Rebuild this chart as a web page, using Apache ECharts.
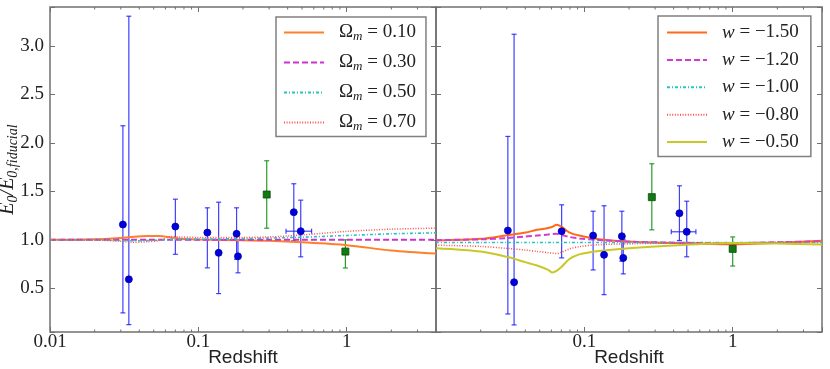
<!DOCTYPE html>
<html>
<head>
<meta charset="utf-8">
<script src="https://cdn.jsdelivr.net/npm/echarts@6/dist/echarts.min.js"></script>
<style>
html, body { margin: 0; padding: 0; background: #fff; }
#main { width: 830px; height: 369px; }
</style>
</head>
<body>
<div id="main"></div>
<script>
// model curves, left panel (matter density)
var zLeft = [0.01, 0.02, 0.03, 0.035, 0.045, 0.055, 0.065, 0.075, 0.1, 0.2, 0.3, 0.5, 1, 2, 4]
var om10 = [1.0, 1.005, 1.02, 1.03, 1.04, 1.04, 1.025, 1.012, 1.003, 0.995, 0.99, 0.975, 0.945, 0.89, 0.858]
var om30 = [1.0, 1.0, 1.0, 1.0, 1.0, 1.0, 1.0, 1.0, 1.0, 1.0, 1.0, 1.0, 1.0, 1.0, 1.0]
var om50 = [1.0, 0.998, 0.993, 0.99, 0.992, 0.997, 1.003, 1.004, 1.006, 1.012, 1.018, 1.027, 1.045, 1.062, 1.072]
var om70 = [1.0, 0.997, 0.985, 0.975, 0.98, 0.995, 1.035, 1.03, 1.025, 1.025, 1.03, 1.05, 1.087, 1.11, 1.12]

// model curves, right panel (equation of state)
var zRight = [0.01, 0.02, 0.03, 0.04, 0.048, 0.057, 0.061, 0.065, 0.07, 0.079, 0.0925, 0.126, 0.21, 0.46, 1, 2, 4]
var w150 = [0.993, 1.01, 1.047, 1.075, 1.103, 1.122, 1.135, 1.155, 1.137, 1.078, 1.044, 1.006, 0.98, 0.965, 0.955, 0.97, 0.99]
var w120 = [0.997, 1.005, 1.018, 1.035, 1.045, 1.055, 1.06, 1.062, 1.05, 1.03, 1.015, 0.998, 0.98, 0.97, 0.965, 0.975, 0.985]
var w100 = [0.973, 0.973, 0.973, 0.973, 0.973, 0.973, 0.973, 0.973, 0.973, 0.973, 0.973, 0.973, 0.973, 0.973, 0.973, 0.973, 0.973]
var w080 = [0.945, 0.932, 0.912, 0.895, 0.88, 0.868, 0.862, 0.858, 0.872, 0.905, 0.93, 0.95, 0.96, 0.968, 0.97, 0.975, 0.98]
var w050 = [0.914, 0.88, 0.825, 0.77, 0.735, 0.69, 0.663, 0.68, 0.72, 0.8, 0.85, 0.885, 0.917, 0.948, 0.968, 0.962, 0.952]

// measurements (left panel)
var obsZL = [0.031, 0.034, 0.07, 0.115, 0.137, 0.181, 0.185, 0.44, 0.49]
var obsEL = [1.158, 0.593, 1.137, 1.075, 0.866, 1.062, 0.83, 1.285, 1.089]
var obsLoL = [0.247, 0.126, 0.851, 0.711, 0.446, 0.80, 0.66, 0.99, 0.825]
var obsHiL = [2.176, 3.305, 1.419, 1.33, 1.388, 1.33, 1.0, 1.578, 1.409]
var obsXLoL = [0, 0, 0, 0, 0, 0, 0, 0, 0.39]
var obsXHiL = [0, 0, 0, 0, 0, 0, 0, 0, 0.58]
var snZL = [0.289, 0.98]
var snEL = [1.467, 0.879]
var snLoL = [1.12, 0.71]
var snHiL = [1.815, 1.0]

// measurements (right panel)
var obsZR = [0.0305, 0.0336, 0.0703, 0.1146, 0.1358, 0.179, 0.183, 0.4375, 0.49]
var obsER = [1.096, 0.563, 1.089, 1.044, 0.845, 1.037, 0.814, 1.274, 1.083]
var obsLoR = [0.236, 0.123, 0.814, 0.69, 0.435, 0.78, 0.649, 0.993, 0.825]
var obsHiR = [2.066, 3.119, 1.361, 1.295, 1.351, 1.295, 1.0, 1.557, 1.398]
var obsXLoR = [0, 0, 0, 0, 0, 0, 0, 0, 0.3855]
var obsXHiR = [0, 0, 0, 0, 0, 0, 0, 0, 0.565]
var snZR = [0.285, 1.0]
var snER = [1.44, 0.907]
var snLoR = [1.103, 0.73]
var snHiR = [1.784, 1.03]

var omLabels = ['0.10', '0.30', '0.50', '0.70']
var wLabels = ['\u22121.50', '\u22121.20', '\u22121.00', '\u22120.80', '\u22120.50']
var minorTicks = [0.02, 0.03, 0.04, 0.05, 0.06, 0.07, 0.08, 0.09, 0.2, 0.3, 0.4, 0.5, 0.6, 0.7, 0.8, 0.9, 2, 3]

var zMin = 0.01, zMax = 4, yMin = 0.05, yMax = 3.4
var serif = 'Liberation Serif'
var frameColor = '#707070'
var textColor = '#222'

function pairs (xs, ys) {
  return xs.map(function (x, i) { return [x, ys[i]] })
}
function errRows (z, v, lo, hi, xlo, xhi) {
  return z.map(function (x, i) {
    return [x, v[i], lo[i], hi[i], xlo ? xlo[i] : 0, xhi ? xhi[i] : 0]
  })
}

function renderErr (params, api) {
  var x = api.value(0), y = api.value(1)
  var a = api.coord([x, api.value(2)])
  var b = api.coord([x, api.value(3)])
  var st = { stroke: api.visual('color'), lineWidth: 1.2 }
  var kids = [
    { type: 'line', shape: { x1: a[0], y1: a[1], x2: b[0], y2: b[1] }, style: st },
    { type: 'line', shape: { x1: a[0] - 2.5, y1: a[1], x2: a[0] + 2.5, y2: a[1] }, style: st },
    { type: 'line', shape: { x1: b[0] - 2.5, y1: b[1], x2: b[0] + 2.5, y2: b[1] }, style: st }
  ]
  if (api.value(4) > 0) {
    var l = api.coord([api.value(4), y])
    var r = api.coord([api.value(5), y])
    kids.push({ type: 'line', shape: { x1: l[0], y1: l[1], x2: r[0], y2: r[1] }, style: st })
    kids.push({ type: 'line', shape: { x1: l[0], y1: l[1] - 2.5, x2: l[0], y2: l[1] + 2.5 }, style: st })
    kids.push({ type: 'line', shape: { x1: r[0], y1: r[1] - 2.5, x2: r[0], y2: r[1] + 2.5 }, style: st })
  }
  return { type: 'group', children: kids }
}

function renderMinor (params, api) {
  var v = api.value(0)
  var b = api.coord([v, yMin])
  var t = api.coord([v, yMax])
  var st = { stroke: frameColor, lineWidth: 1 }
  return {
    type: 'group',
    children: [
      { type: 'line', shape: { x1: b[0], y1: b[1], x2: b[0], y2: b[1] - 2.5 }, style: st },
      { type: 'line', shape: { x1: t[0], y1: t[1], x2: t[0], y2: t[1] + 2.5 }, style: st }
    ]
  }
}

function isDecade (v) {
  var l = Math.log(v) / Math.LN10
  return Math.abs(l - Math.round(l)) < 1e-6
}

function xAx (grid, pos, labels, hideFirst) {
  return {
    type: 'log',
    logBase: 10,
    gridIndex: grid,
    position: pos,
    min: zMin,
    max: zMax,
    axisLine: { show: false },
    splitLine: { show: false },
    axisTick: { show: true, inside: true, length: 5, lineStyle: { color: frameColor, width: 1 } },
    axisLabel: {
      show: labels,
      margin: 1,
      fontFamily: serif,
      fontSize: 19,
      color: textColor,
      formatter: function (v) {
        if (!isDecade(v)) return ''
        if (hideFirst && Math.abs(v - zMin) < 1e-9) return ''
        return String(Number(v.toPrecision(6)))
      }
    },
    name: labels ? 'Redshift' : '',
    nameLocation: 'middle',
    nameGap: 16,
    nameMoveOverlap: false,
    nameTextStyle: { fontFamily: 'Liberation Sans', fontSize: 19, color: textColor }
  }
}

function yAx (grid, pos, labels) {
  return {
    type: 'value',
    gridIndex: grid,
    position: pos,
    min: yMin,
    max: yMax,
    axisLine: { show: false },
    splitLine: { show: false },
    axisTick: { show: true, inside: true, length: 5, lineStyle: { color: frameColor, width: 1 } },
    axisLabel: {
      show: labels,
      margin: 6,
      fontFamily: serif,
      fontSize: 19,
      color: textColor,
      formatter: function (v) {
        return Math.abs(v * 2 - Math.round(v * 2)) < 1e-6 ? v.toFixed(1) : ''
      }
    },
    name: labels ? '{e|E}{s|0}{e|/E}{s|0,fiducial}' : '',
    nameLocation: 'middle',
    nameGap: 30,
    nameMoveOverlap: false,
    nameTextStyle: {
      color: textColor,
      rich: {
        e: { fontFamily: serif, fontStyle: 'italic', fontSize: 20, lineHeight: 24, color: textColor },
        s: { fontFamily: serif, fontStyle: 'italic', fontSize: 14, lineHeight: 12, verticalAlign: 'bottom', color: textColor }
      }
    }
  }
}

var legendRich = {
  sp: { width: 10 },
  g: { fontFamily: serif, fontSize: 19, lineHeight: 22, color: textColor },
  i: { fontFamily: serif, fontStyle: 'italic', fontSize: 19, lineHeight: 22, color: textColor },
  s: { fontFamily: serif, fontStyle: 'italic', fontSize: 13, lineHeight: 12, verticalAlign: 'bottom', color: textColor },
  t: { fontFamily: serif, fontSize: 19, lineHeight: 22, color: textColor }
}

function curve (name, xs, ys, color, width, dash, axis) {
  return {
    name: name,
    type: 'line',
    xAxisIndex: axis,
    yAxisIndex: axis,
    data: pairs(xs, ys),
    symbol: 'none',
    smooth: 0.3,
    color: color,
    lineStyle: { color: color, width: width, type: dash },
    z: 3
  }
}

function errSeries (rows, color, axis) {
  return {
    type: 'custom',
    xAxisIndex: axis,
    yAxisIndex: axis,
    data: rows,
    encode: { x: 0, y: 1 },
    renderItem: renderErr,
    itemStyle: { color: color },
    z: 2
  }
}

function marks (xs, ys, symbol, color, border, axis) {
  return {
    type: 'scatter',
    xAxisIndex: axis,
    yAxisIndex: axis,
    data: pairs(xs, ys),
    symbol: symbol,
    symbolSize: 7,
    itemStyle: { color: color, borderColor: border, borderWidth: 0.8, opacity: 1 },
    z: 5
  }
}

function minorSeries (axis) {
  return {
    type: 'custom',
    xAxisIndex: axis,
    yAxisIndex: axis,
    data: minorTicks.map(function (v) { return [v, 1] }),
    encode: { x: 0, y: 1 },
    renderItem: renderMinor,
    silent: true,
    z: 6
  }
}

var barBlue = 'rgba(30, 30, 255, 0.85)'
var barGreen = '#2a9a2a'

var omColors = ['#ff7f2a', '#cc33cc', '#22c4c4', '#ff4d4d']
var omWidths = [2, 2, 1.6, 1.5]
var omDash = ['solid', [6, 3], [3, 2, 1, 2], [1, 1.6]]
var omData = [om10, om30, om50, om70]

var wColors = ['#ff6a1a', '#d23ad2', '#22c4c4', '#ff4d4d', '#c8c828']
var wWidths = [2, 2, 1.6, 1.5, 2]
var wDash = ['solid', [6, 3], [3, 2, 1, 2], [1, 1.6], 'solid']
var wData = [w150, w120, w100, w080, w050]

var series = []
series.push(minorSeries(0), minorSeries(2))
series.push(errSeries(errRows(obsZL, obsEL, obsLoL, obsHiL, obsXLoL, obsXHiL), barBlue, 0))
series.push(errSeries(errRows(snZL, snEL, snLoL, snHiL), barGreen, 0))
series.push(errSeries(errRows(obsZR, obsER, obsLoR, obsHiR, obsXLoR, obsXHiR), barBlue, 2))
series.push(errSeries(errRows(snZR, snER, snLoR, snHiR), barGreen, 2))
omLabels.forEach(function (lab, i) {
  series.push(curve('om' + lab, zLeft, omData[i], omColors[i], omWidths[i], omDash[i], 0))
})
wLabels.forEach(function (lab, i) {
  series.push(curve('w' + lab, zRight, wData[i], wColors[i], wWidths[i], wDash[i], 2))
})
series.push(marks(obsZL, obsEL, 'circle', '#0000dd', '#0000aa', 0))
series.push(marks(snZL, snEL, 'rect', '#117a11', '#0a4a0a', 0))
series.push(marks(obsZR, obsER, 'circle', '#0000dd', '#0000aa', 2))
series.push(marks(snZR, snER, 'rect', '#117a11', '#0a4a0a', 2))

var legendBase = {
  orient: 'vertical',
  itemWidth: 40,
  itemHeight: 22,
  backgroundColor: '#fff',
  borderColor: '#808080',
  borderWidth: 1.5,
  borderRadius: 0,
  selectedMode: false,
  itemStyle: { opacity: 0 },
  textStyle: { rich: legendRich, color: textColor }
}

var option = {
  animation: false,
  backgroundColor: '#fff',
  grid: [
    { left: 50, top: 7, width: 386, height: 325, outerBoundsMode: 'none', show: true, borderColor: frameColor, borderWidth: 1.5, backgroundColor: 'transparent' },
    { left: 436, top: 7, width: 386, height: 325, outerBoundsMode: 'none', show: true, borderColor: frameColor, borderWidth: 1.5, backgroundColor: 'transparent' }
  ],
  xAxis: [xAx(0, 'bottom', true, false), xAx(0, 'top', false, false), xAx(1, 'bottom', true, true), xAx(1, 'top', false, false)],
  yAxis: [yAx(0, 'left', true), yAx(0, 'right', false), yAx(1, 'left', false), yAx(1, 'right', false)],
  legend: [
    Object.assign({}, legendBase, {
      left: 276,
      top: 17,
      padding: [6, 10, 3, 7],
      itemGap: 9.5,
      data: omLabels.map(function (l) { return 'om' + l }),
      formatter: function (name) {
        return '{sp| }{g|\u03a9}{s|m}{t| = ' + name.slice(2) + '}'
      }
    }),
    Object.assign({}, legendBase, {
      left: 658,
      top: 16,
      padding: [7, 12, 5, 8],
      itemGap: 8.4,
      data: wLabels.map(function (l) { return 'w' + l }),
      formatter: function (name) {
        return '{sp| }{i|w}{t| = ' + name.slice(1) + '}'
      }
    })
  ],
  series: series
}

var chart = echarts.init(document.getElementById('main'))
chart.setOption(option)
</script>
</body>
</html>
